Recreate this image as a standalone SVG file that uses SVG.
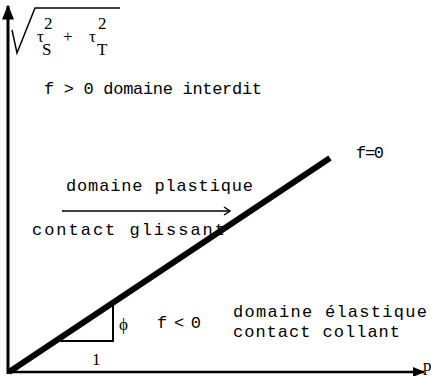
<svg xmlns="http://www.w3.org/2000/svg" width="431" height="376" viewBox="0 0 431 376">
<defs>
<style>
text{font-family:"Liberation Mono","DejaVu Sans Mono",monospace;font-size:17px;fill:#000}
.s{font-family:"Liberation Serif","DejaVu Serif",serif}
</style>
<marker id="ah" viewBox="0 0 10 10" refX="9" refY="5" markerWidth="5" markerHeight="5" orient="auto"><path d="M0,1 L10,5 L0,9 Z" fill="#000"/></marker>
</defs>
<rect width="431" height="376" fill="#fff"/>
<g id="connectors" fill="none" stroke="#000">
<line x1="8" y1="374" x2="8" y2="6" stroke-width="3" marker-end="url(#ah)"/>
<line x1="7" y1="372" x2="424" y2="372" stroke-width="2.5" marker-end="url(#ah)"/>
<line x1="9" y1="372" x2="330" y2="158" stroke-width="6"/>
<polyline points="60,341 113,341 113,305" stroke-width="2"/>
<line x1="62" y1="211" x2="230" y2="211" stroke-width="1.5"/>
<polyline points="224,207 230,211 224,215" stroke-width="1.5"/>
<polyline points="12,30 17,53 35,8 120,8" stroke-width="1.5"/>
</g>
<g id="ylabel">
<text class="s" x="37" y="42" font-size="16">τ</text>
<text class="s" x="44" y="29" font-size="17">2</text>
<text class="s" x="42" y="55" font-size="15">S</text>
<text class="s" x="63" y="42" font-size="17">+</text>
<text class="s" x="89" y="42" font-size="16">τ</text>
<text class="s" x="98" y="29" font-size="17">2</text>
<text class="s" x="97" y="55" font-size="15">T</text>
</g>
<g id="forbidden"><text x="44" y="94" textLength="218">f &gt; 0 domaine interdit</text></g>
<g id="plastic"><text x="66" y="191" textLength="187">domaine plastique</text></g>
<g id="sliding"><text x="32" y="235" textLength="193">contact glissant</text></g>
<g id="f0"><text x="356" y="158" textLength="28">f=0</text></g>
<g id="fneg"><text x="157" y="328" textLength="44">f &lt; 0</text></g>
<g id="elastic"><text x="233" y="317" textLength="194">domaine élastique</text><text x="233" y="337" textLength="167">contact collant</text></g>
<g id="phi"><text class="s" x="119" y="330" font-size="21">ϕ</text></g>
<g id="one"><text class="s" x="92" y="365" font-size="17">1</text></g>
<g id="p"><text class="s" x="423" y="371" font-size="16">p</text></g>
</svg>
